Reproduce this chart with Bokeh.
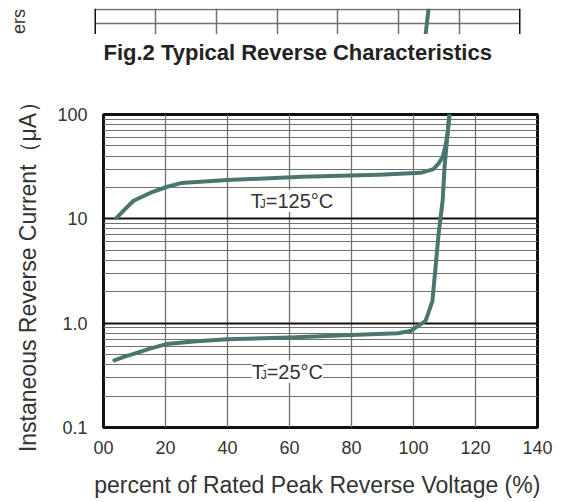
from bokeh.plotting import figure
from bokeh.models import (FixedTicker, CustomJSTickFormatter, Label, Span,
                          Range1d, Grid, LinearAxis)
from bokeh.embed import file_html
from bokeh.resources import INLINE

# ---------------- data ----------------
# T_J = 125 degC curve: percent of rated peak reverse voltage vs reverse current (uA)
pct_125 = [4.2, 7.1, 9.7, 15.2, 20.6, 25, 40, 64, 89, 102.3, 106.5, 108.1, 109.4, 110.3, 111.0, 111.6]
cur_125 = [10.2, 12.5, 14.9, 17.8, 20.3, 22, 23.5, 25.3, 26.5, 27.6, 30, 34, 39, 50, 66, 100]

# T_J = 25 degC curve
pct_25 = [3.5, 7, 10, 15, 20.3, 30, 40, 60, 80, 95, 99, 103.9, 106.1, 107.1, 108.1, 109.4, 110.0, 111.0, 111.6]
cur_25 = [0.44, 0.48, 0.51, 0.57, 0.63, 0.67, 0.70, 0.73, 0.77, 0.80, 0.84, 1.05, 1.63, 3.4, 7.2, 14.9, 31, 66, 100]

x_ticks = [0, 20, 40, 60, 80, 100, 120, 140]
x_tick_labels = ["00", "20", "40", "60", "80", "100", "120", "140"]
y_ticks = [0.1, 1, 10, 100]
y_tick_labels = ["0.1", "1.0", "10", "100"]
y_minor = [0.2, 0.3, 0.4, 0.5, 0.6, 0.7, 0.8, 0.9,
           2, 3, 4, 5, 6, 7, 8, 9,
           20, 30, 40, 50, 60, 70, 80, 90]

curve_labels = ["=125°C", "=25°C"]

# fragment of the previous figure (Fig.1) visible at the top
frag_grid_x = [1, 2, 3, 4, 5, 6]
frag_border_x = [0, 7]
frag_grid_y = [11, 25]
frag_curve_x = [5.44, 5.49]
frag_curve_y = [0, 26]

FONT = "Liberation Sans"
TXT = "#333333"
CURVE = "#4a7670"
GRID = "#707070"

# ---------------- fragment figure ----------------
top = figure(width=560, height=34, x_range=Range1d(0, 7), y_range=Range1d(0, 26),
             x_axis_type=None, y_axis_type=None, toolbar_location=None,
             output_backend="svg", min_border_left=94, min_border_right=40,
             min_border_top=8, min_border_bottom=0)
top.outline_line_color = None
top.add_layout(Grid(dimension=0, ticker=FixedTicker(ticks=frag_grid_x),
                    grid_line_color=GRID, grid_line_width=1.5))
top.add_layout(Grid(dimension=1, ticker=FixedTicker(ticks=frag_grid_y),
                    grid_line_color=GRID, grid_line_width=1.5))
for bx in frag_border_x:
    top.add_layout(Span(location=bx, dimension="height", line_color="#111111", line_width=3))
top.line(frag_curve_x, frag_curve_y, line_color=CURVE, line_width=4)
frag_axis = LinearAxis(ticker=FixedTicker(ticks=[]), axis_label="ers",
                       axis_line_color=None, major_tick_line_color=None,
                       minor_tick_line_color=None, axis_label_standoff=66,
                       axis_label_text_font=FONT, axis_label_text_font_size="18px",
                       axis_label_text_font_style="normal", axis_label_text_color=TXT)
top.add_layout(frag_axis, "left")

# ---------------- main figure ----------------
p = figure(width=560, height=468, x_range=Range1d(0, 140), y_range=Range1d(0.1, 100),
           y_axis_type="log", toolbar_location=None, output_backend="svg",
           min_border_left=103, min_border_right=23, min_border_top=80,
           min_border_bottom=75, title="Fig.2  Typical Reverse Characteristics")

main_x = p.below[0]
main_y = p.left[0]

# invisible spacer axis above the frame, so that the title sits higher
spacer = LinearAxis(ticker=FixedTicker(ticks=[70]), axis_line_color=None,
                    major_tick_line_color=None, minor_tick_line_color=None,
                    major_label_text_color=None, major_label_text_font_size="1px",
                    major_label_standoff=0, major_tick_out=47, major_tick_in=0)
p.add_layout(spacer, "above")

p.title.text_font = FONT
p.title.text_font_size = "22px"
p.title.text_font_style = "bold"
p.title.text_color = "#222222"
p.title.align = "left"
p.title.standoff = 5

p.outline_line_color = "#111111"
p.outline_line_width = 3

main_x.ticker = FixedTicker(ticks=x_ticks)
main_y.ticker = FixedTicker(ticks=y_ticks, minor_ticks=y_minor)

fmt_code = """
let k = 0;
for (let i = 0; i < v.length; i++) {
  if (Math.abs(v[i] - tick) < Math.abs(v[k] - tick)) k = i;
}
return l[k];
"""
main_x.formatter = CustomJSTickFormatter(args=dict(v=x_ticks, l=x_tick_labels), code=fmt_code)
main_y.formatter = CustomJSTickFormatter(args=dict(v=y_ticks, l=y_tick_labels), code=fmt_code)

for ax in (main_x, main_y):
    ax.axis_line_color = None
    ax.major_tick_line_color = None
    ax.minor_tick_line_color = None
    ax.major_tick_out = 0
    ax.major_tick_in = 0
    ax.major_label_text_font = FONT
    ax.major_label_text_font_size = "18px"
    ax.major_label_text_color = TXT
    ax.axis_label_text_font = FONT
    ax.axis_label_text_font_style = "normal"
    ax.axis_label_text_color = TXT

main_x.major_label_standoff = 13
main_y.major_label_standoff = 12
main_x.axis_label = "percent of Rated  Peak Reverse Voltage (%)"
main_x.axis_label_text_font_size = "23px"
main_x.axis_label_standoff = 15
main_y.axis_label = "Instaneous Reverse Current（μA）"
main_y.axis_label_text_font_size = "23px"
main_y.axis_label_standoff = 13

p.xgrid.grid_line_color = GRID
p.xgrid.grid_line_width = 1.3
p.ygrid.grid_line_color = "#111111"
p.ygrid.grid_line_width = 1.8
p.ygrid.minor_grid_line_color = GRID
p.ygrid.minor_grid_line_width = 1.2

p.line(pct_125, cur_125, line_color=CURVE, line_width=4, line_join="round", line_cap="round")
p.line(pct_25, cur_25, line_color=CURVE, line_width=4, line_join="round", line_cap="round")

# curve labels  T_J=...
for (lx, ly), rest in zip([(47.5, 14.9), (47.8, 0.342)], curve_labels):
    p.add_layout(Label(x=lx, y=ly, text="T", text_align="left", text_baseline="middle",
                       text_font=FONT, text_font_size="20px", text_color=TXT,
                       background_fill_color="white"))
    p.add_layout(Label(x=lx, y=ly, x_offset=15, text=rest, text_align="left",
                       text_baseline="middle", text_font=FONT, text_font_size="20px",
                       text_color=TXT, background_fill_color="white"))
    p.add_layout(Label(x=lx, y=ly, x_offset=9, y_offset=-3, text="J", text_align="left",
                       text_baseline="middle", text_font=FONT, text_font_size="12px",
                       text_color=TXT))

open("out.html", "w").write(file_html([top, p], INLINE))
